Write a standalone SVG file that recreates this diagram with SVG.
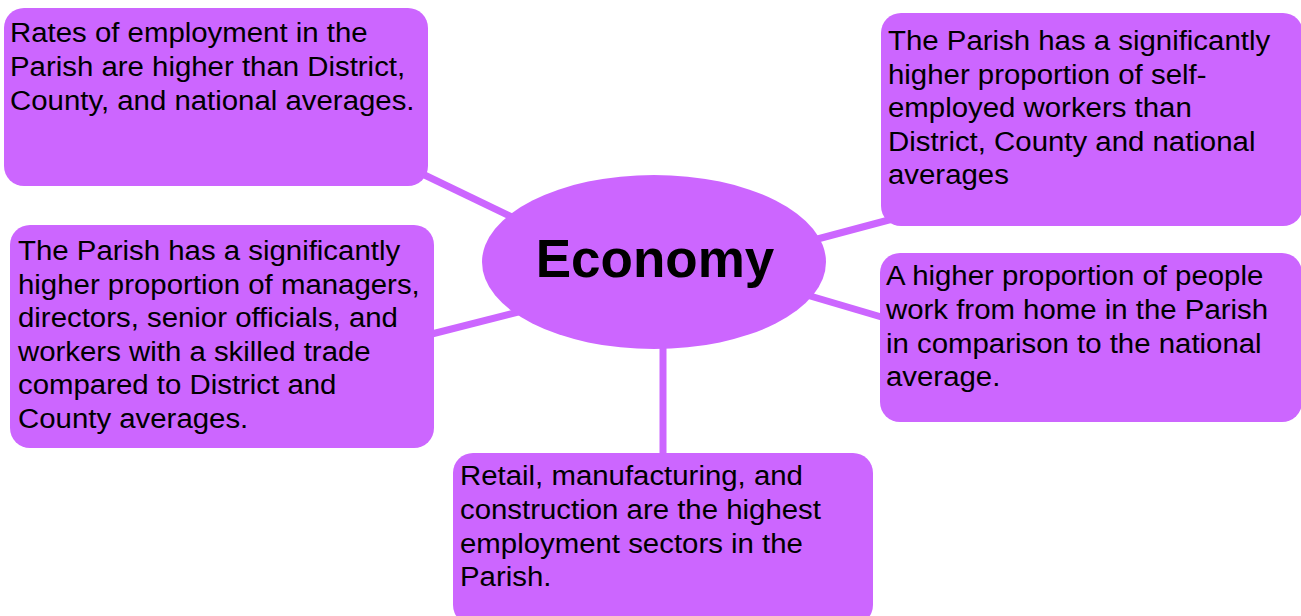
<svg xmlns="http://www.w3.org/2000/svg" width="1301" height="616" viewBox="0 0 1301 616">
<style>
.box{fill:#CC66FF;}
.t{font-family:"Liberation Sans",Arial,sans-serif;font-size:28px;fill:#000;}
.title{font-family:"Liberation Sans",Arial,sans-serif;font-size:53px;font-weight:bold;fill:#000;}
.conn line{stroke:#CC66FF;stroke-width:7;}
</style>
<rect width="1301" height="616" fill="#fff"/>
<g id="connectors" class="conn">
<line x1="410" y1="168" x2="520" y2="221"/>
<line x1="420" y1="337" x2="530" y2="309"/>
<line x1="810" y1="241" x2="900" y2="217"/>
<line x1="800" y1="293" x2="895" y2="321"/>
<line x1="663" y1="330" x2="663" y2="465"/>
</g>
<g id="center">
<ellipse class="box" cx="654" cy="262" rx="172" ry="87"/>
<text class="title" x="655" y="277" text-anchor="middle">Economy</text>
</g>
<g id="node-employment">
<rect class="box" x="4" y="8" width="424" height="178" rx="20"/>
<text class="t" transform="translate(10,0) scale(1.05,1)"><tspan x="0" y="42.5">Rates of employment in the</tspan><tspan x="0" y="76">Parish are higher than District,</tspan><tspan x="0" y="109.7">County, and national averages.</tspan></text>
</g>
<g id="node-selfemployed">
<rect class="box" x="881" y="13" width="422" height="213" rx="20"/>
<text class="t" transform="translate(888,0) scale(1.05,1)"><tspan x="0" y="50">The Parish has a significantly</tspan><tspan x="0" y="83.6">higher proportion of self-</tspan><tspan x="0" y="117.2">employed workers than</tspan><tspan x="0" y="150.8">District, County and national</tspan><tspan x="0" y="184.4">averages</tspan></text>
</g>
<g id="node-managers">
<rect class="box" x="10" y="225" width="424" height="223" rx="20"/>
<text class="t" transform="translate(18,0) scale(1.05,1)"><tspan x="0" y="260">The Parish has a significantly</tspan><tspan x="0" y="293.6">higher proportion of managers,</tspan><tspan x="0" y="327.2">directors, senior officials, and</tspan><tspan x="0" y="360.8">workers with a skilled trade</tspan><tspan x="0" y="394.4">compared to District and</tspan><tspan x="0" y="428">County averages.</tspan></text>
</g>
<g id="node-home">
<rect class="box" x="880" y="253" width="422" height="169" rx="20"/>
<text class="t" transform="translate(886,0) scale(1.05,1)"><tspan x="0" y="285.5">A higher proportion of people</tspan><tspan x="0" y="319.1">work from home in the Parish</tspan><tspan x="0" y="352.7">in comparison to the national</tspan><tspan x="0" y="386.3">average.</tspan></text>
</g>
<g id="node-sectors">
<rect class="box" x="453" y="453" width="420" height="172" rx="20"/>
<text class="t" transform="translate(460,0) scale(1.05,1)"><tspan x="0" y="485.5">Retail, manufacturing, and</tspan><tspan x="0" y="519.1">construction are the highest</tspan><tspan x="0" y="552.7">employment sectors in the</tspan><tspan x="0" y="586.3">Parish.</tspan></text>
</g>
</svg>
